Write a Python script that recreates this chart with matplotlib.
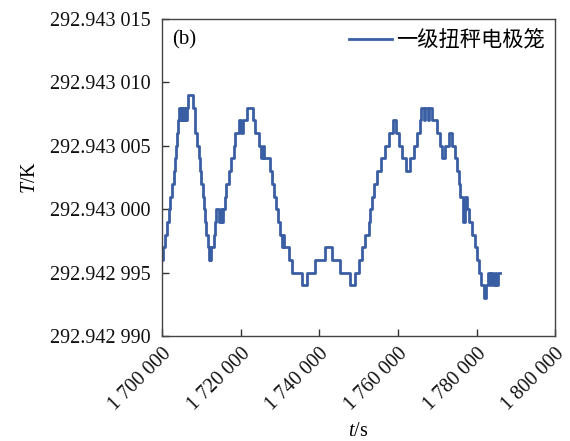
import matplotlib
matplotlib.use("Agg")
import matplotlib.pyplot as plt
from matplotlib.ticker import FixedLocator, FixedFormatter

# time (s) at which each temperature step begins
t_s = [1700000, 1700340, 1700680, 1701270, 1701700, 1702120, 1702540, 1702970, 1703220, 1703560,
       1703900, 1704070, 1704320, 1704580, 1704830, 1705080, 1705340, 1705590, 1705850, 1706100,
       1706360, 1706610, 1707800, 1708310, 1708480, 1708900, 1709320, 1709750, 1710000, 1710340,
       1710590, 1711020, 1711270, 1711610, 1711860, 1712120, 1712290, 1712540, 1713140, 1713560,
       1713810, 1714580, 1715000, 1715260, 1715590, 1715930, 1716270, 1716950, 1717630, 1718220,
       1718650, 1719490, 1720000, 1720510, 1721610, 1723050, 1723730, 1724580, 1725260, 1725680,
       1726020, 1727540, 1727970, 1728560, 1728980, 1729490, 1730090, 1730510, 1730760, 1731020,
       1732200, 1733050, 1735600, 1736870, 1738980, 1741530, 1743220, 1745340, 1747880, 1749150,
       1750000, 1750850, 1751700, 1752550, 1752970, 1753390, 1753820, 1754660, 1755770, 1756610,
       1757630, 1758650, 1759490, 1760170, 1761020, 1762040, 1763140, 1763990, 1764830, 1765680,
       1765940, 1766610, 1766950, 1767630, 1767970, 1768650, 1769920, 1770770, 1771190, 1771870,
       1772890, 1773730, 1774580, 1775000, 1775430, 1775850, 1776450, 1777120, 1777630, 1778140,
       1778820, 1779500, 1780090, 1780510, 1781190, 1781780, 1782380, 1782890, 1783310, 1783730,
       1784160, 1784580, 1785000, 1785430, 1786020]

# temperature in micro-kelvin above 292.942 990 K
dT_uK = [6, 7, 8, 9, 10, 11, 12, 13, 14, 15,
         16, 17, 18, 17, 18, 17, 18, 17, 18, 17,
         18, 19, 18, 17, 16, 15, 14, 13, 12, 11,
         10, 9, 8, 7, 6, 7, 6, 7, 8, 9,
         10, 9, 10, 9, 10, 11, 12, 13, 14, 15,
         16, 17, 16, 17, 18, 17, 16, 15, 14, 15,
         14, 13, 12, 11, 10, 9, 8, 7, 8, 7,
         6, 5, 4, 5, 6, 7, 6, 5, 4, 5,
         6, 7, 8, 9, 10, 11, 12, 13, 14, 15,
         16, 17, 16, 15, 14, 13, 14, 15, 16, 17,
         18, 17, 18, 17, 18, 17, 16, 15, 14, 15,
         16, 15, 14, 13, 12, 11, 9, 11, 10, 9,
         8, 7, 6, 5, 4, 3, 4, 5, 4, 5,
         4, 5, 4, 5, 5]
T_base = 292.942990

series_label = "一级扭秤电极笼"
panel_label = "(b)"

x_ticks = [1700000, 1720000, 1740000, 1760000, 1780000, 1800000]
x_tick_labels = ["1 700 000", "1 720 000", "1 740 000", "1 760 000", "1 780 000", "1 800 000"]
y_ticks = [292.942990, 292.942995, 292.943000, 292.943005, 292.943010, 292.943015]
y_tick_labels = ["292.942 990", "292.942 995", "292.943 000", "292.943 005", "292.943 010", "292.943 015"]

T = [T_base + d * 1e-6 for d in dT_uK]

plt.rcParams['font.family'] = ['Liberation Serif', 'Noto Sans CJK SC', 'DejaVu Sans']
plt.rcParams['mathtext.fontset'] = 'custom'
plt.rcParams['mathtext.it'] = 'Liberation Serif:italic'
plt.rcParams['mathtext.rm'] = 'Liberation Serif'

fig = plt.figure(figsize=(5.70, 4.41), dpi=100)
ax = fig.add_axes([0.284, 0.238, 0.690, 0.719])

line_color = "#3a5ea3"
ax.plot(t_s, T, drawstyle='steps-post', color=line_color, lw=2.0, label=series_label)

ax.set_xlim(1700000, 1800000)
ax.set_ylim(292.942990, 292.943015)
ax.xaxis.set_major_locator(FixedLocator(x_ticks))
ax.xaxis.set_major_formatter(FixedFormatter(x_tick_labels))
ax.yaxis.set_major_locator(FixedLocator(y_ticks))
ax.yaxis.set_major_formatter(FixedFormatter(y_tick_labels))

ax.tick_params(direction='in', length=5, width=1, colors='#333333', labelcolor='#111111',
               labelsize=14.5, top=False, right=False)
ax.tick_params(axis='y', pad=8)
ax.tick_params(axis='x', pad=6)
for lab in ax.get_xticklabels():
    lab.set_rotation(45)
    lab.set_ha('right')
    lab.set_va('top')
    lab.set_rotation_mode('anchor')

for sp in ax.spines.values():
    sp.set_color('#444444')
    sp.set_linewidth(1.0)

ax.set_xlabel(r"$t$/s", fontsize=14.5, labelpad=5)
ax.set_ylabel(r"$T$/K", fontsize=14.5, labelpad=7)

ax.text(0.025, 0.965, panel_label, transform=ax.transAxes, ha='left', va='top', fontsize=15)

leg = ax.legend(loc='upper right', frameon=False, handlelength=2.0, handletextpad=0.2,
                borderaxespad=0.1, borderpad=0.4,
                prop={'family': ['Noto Sans CJK SC'], 'size': 15.3})

fig.savefig("out.png", dpi=100)
